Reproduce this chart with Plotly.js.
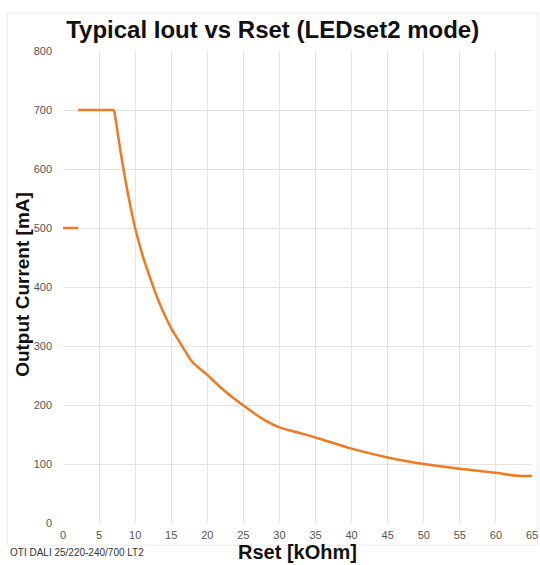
<!DOCTYPE html>
<html>
<head>
<meta charset="utf-8">
<script src="https://cdn.plot.ly/plotly-3.0.1.min.js"></script>
<style>html,body{margin:0;padding:0;background:#fff;}#chart{width:540px;height:565px;}</style>
</head>
<body>
<div id="chart"></div>
<script>
// Startup segment (500 mA)
const startX = [0, 2.1];
const startY = [500, 500];
// Flat limit segment (700 mA)
const flatX = [2.1, 7.1];
const flatY = [700, 700];
// Main curve: Output current vs Rset
const rsetK = [7.1, 8, 9, 10, 11, 12, 13, 14, 15, 16, 17, 18, 20, 22, 25, 28, 30, 33, 35, 40, 45, 50, 55, 60, 63, 65];
const ioutMA = [700, 628, 558, 500, 455, 418, 384, 355, 330, 310, 290, 272, 251, 228, 199, 174, 162, 152, 145, 126, 111, 100, 92, 85, 80, 80];
const xTicks = [0,5,10,15,20,25,30,35,40,45,50,55,60,65];
const yTicks = [0,100,200,300,400,500,600,700,800];

const lineColor = '#f07a22';
const font = 'Liberation Sans, Arial, sans-serif';

const traces = [
  {x: startX, y: startY, mode: 'lines', line: {color: lineColor, width: 2.5}, hoverinfo: 'skip'},
  {x: flatX, y: flatY, mode: 'lines', line: {color: lineColor, width: 2.5}, hoverinfo: 'skip'},
  {x: rsetK, y: ioutMA, mode: 'lines', line: {color: lineColor, width: 2.5, shape: 'spline', smoothing: 1}, hoverinfo: 'skip'}
];

const layout = {
  width: 540, height: 565,
  margin: {l: 63, r: 8, t: 51, b: 42},
  paper_bgcolor: '#fff', plot_bgcolor: '#fff',
  showlegend: false,
  font: {family: font, color: '#555', size: 11},
  title: {text: '<b>Typical Iout vs Rset (LEDset2 mode)</b>', x: 0.505, xanchor: 'center', y: 0.947, yanchor: 'middle',
          font: {family: font, size: 24, color: '#111'}},
  xaxis: {range: [0, 65], tickvals: xTicks, ticktext: xTicks.map(String), showgrid: true, gridcolor: '#e4e4e4',
          zeroline: false, showline: false, ticks: '', tickfont: {size: 11, color: '#555'}, ticklabelstandoff: 4,
          title: {text: '<b>Rset [kOhm]</b>', font: {size: 20, color: '#111'}, standoff: 2}},
  yaxis: {range: [0, 800], tickvals: yTicks, ticktext: yTicks.map(String), showgrid: true, gridcolor: '#e4e4e4',
          zeroline: false, showline: false, ticks: '', tickfont: {size: 11, color: '#555'}, ticklabelstandoff: 10},
  annotations: [
    {text: '<b>Output Current [mA]</b>', xref: 'paper', yref: 'paper', x: -0.087, y: 0.505, xanchor: 'center', yanchor: 'middle',
     textangle: -90, showarrow: false, font: {size: 19, color: '#111'}},
    {text: 'OTI DALI 25/220-240/700 LT2', xref: 'paper', yref: 'paper', x: -0.118, y: -0.062, xanchor: 'left', yanchor: 'middle',
     showarrow: false, font: {size: 10, color: '#333'}}
  ],
  shapes: [
    {type: 'rect', xref: 'paper', yref: 'paper', x0: -0.119, x1: 1.012, y0: -0.047, y1: 1.08, line: {color: '#ececec', width: 1}, fillcolor: 'rgba(0,0,0,0)', layer: 'below'}
  ]
};

Plotly.newPlot('chart', traces, layout, {displayModeBar: false, staticPlot: true});
</script>
</body>
</html>
